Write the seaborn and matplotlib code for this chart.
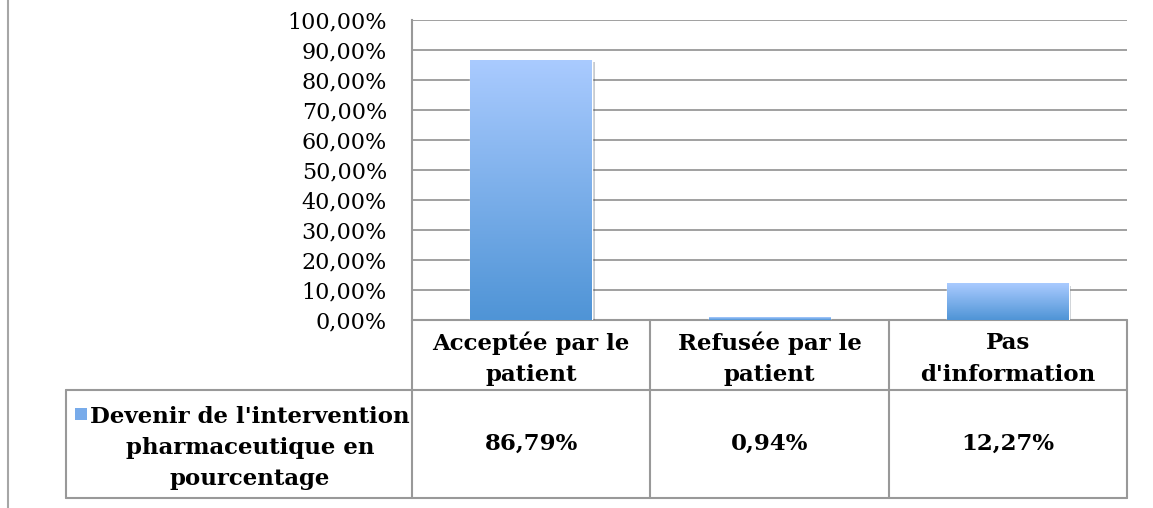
import numpy as np
import pandas as pd
import seaborn as sns
import matplotlib.pyplot as plt
import matplotlib.patheffects as pe
from matplotlib.ticker import FuncFormatter, MultipleLocator
from matplotlib.colors import LinearSegmentedColormap
from matplotlib.patches import Rectangle
from matplotlib.lines import Line2D

categories = ["Acceptée par le\npatient", "Refusée par le\npatient", "Pas\nd'information"]
values = [86.79, 0.94, 12.27]
series_name = "Devenir de l'intervention\npharmaceutique en\npourcentage"


def fmt_pct(v, pos=None):
    return f"{v:.2f}".replace(".", ",") + "%"


sns.set_style("white")
plt.rcParams["font.family"] = ["DejaVu Serif"]
plt.rcParams["text.color"] = "black"
plt.rcParams["ytick.color"] = "black"

W, H = 1153, 508
fig = plt.figure(figsize=(W / 100, H / 100), dpi=100)
ax = fig.add_axes([412 / W, (H - 320) / H, 715 / W, 300 / H])

df = pd.DataFrame({"categorie": categories, "valeur": values})
sns.barplot(data=df, x="categorie", y="valeur", color="#6fa3e4", width=0.51,
            saturation=1, ax=ax, zorder=3)

# degrade vertical sur chaque barre
cmap = LinearSegmentedColormap.from_list("bleu", ["#4f94d6", "#aacbff"])
grad = np.linspace(0, 1, 256).reshape(-1, 1)
for p in ax.patches:
    p.set_path_effects([pe.SimplePatchShadow(offset=(2, -2), alpha=0.25), pe.Normal()])
    x0, y0, w, h = p.get_x(), p.get_y(), p.get_width(), p.get_height()
    im = ax.imshow(grad, cmap=cmap, origin="lower", aspect="auto",
                   extent=[x0, x0 + w, y0, y0 + h], zorder=4)
    im.set_clip_path(p)

ax.set_xlim(-0.5, 2.5)
ax.set_ylim(0, 100)
ax.yaxis.set_major_locator(MultipleLocator(10))
ax.yaxis.set_major_formatter(FuncFormatter(fmt_pct))
ax.grid(axis="y", color="#999999", lw=1.3, zorder=0)
ax.set_xticks([])
ax.set_xlabel("")
ax.set_ylabel("")
ax.tick_params(axis="y", length=0, pad=18, labelsize=16, labelcolor="black")
for s in ["top", "right", "bottom"]:
    ax.spines[s].set_visible(False)
ax.spines["left"].set_color("#999999")
ax.spines["left"].set_linewidth(1.5)

# tableau de donnees
trans = ax.get_xaxis_transform()
lc = "#999999"
h1 = -70 / 300
h2 = -178 / 300
x_first = (66 - 412) / (715 / 3) - 0.5
seg = [
    ([-0.5, 2.5], [0, 0]),
    ([x_first, 2.5], [h1, h1]),
    ([x_first, 2.5], [h2, h2]),
    ([x_first, x_first], [h1, h2]),
]
for xb in [-0.5, 0.5, 1.5, 2.5]:
    seg.append(([xb, xb], [0, h2]))
for xs, ys in seg:
    ax.add_line(Line2D(xs, ys, transform=trans, color=lc, lw=1.5, clip_on=False))

for i, (cat, v) in enumerate(zip(categories, values)):
    ax.text(i, h1 / 2 - 4 / 300, cat, transform=trans, ha="center", va="center",
            fontsize=16.5, fontweight="bold", linespacing=1.55)
    ax.text(i, (h1 + h2) / 2, fmt_pct(v), transform=trans, ha="center",
            va="center", fontsize=16.5, fontweight="bold")

leg_x = (250 - 412) / (715 / 3) - 0.5
ax.text(leg_x, (h1 + h2) / 2 - 4 / 300, series_name, transform=trans, ha="center",
        va="center", fontsize=16.5, fontweight="bold", linespacing=1.55)
ax.add_patch(Rectangle(((75 - 412) / (715 / 3) - 0.5, (320 - 420) / 300),
                       12 / (715 / 3), 12 / 300, transform=trans,
                       facecolor="#78abea", edgecolor="none", clip_on=False))

fig.add_artist(Line2D([8 / W, 8 / W], [0, 1], transform=fig.transFigure,
                      color="#a6a6a6", lw=1.5))

fig.savefig("out.png", dpi=100)
